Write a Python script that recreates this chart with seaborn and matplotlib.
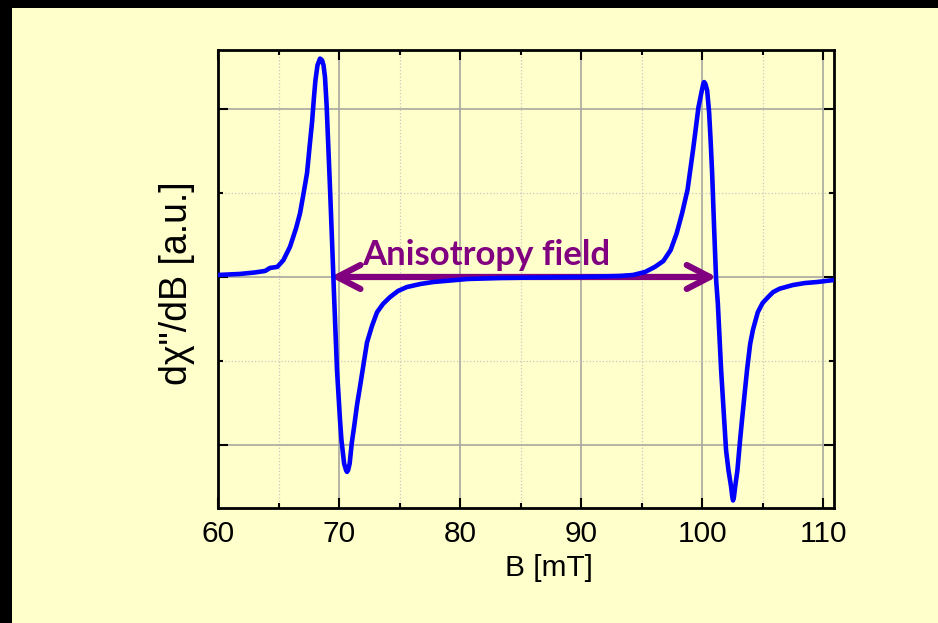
import numpy as np
import pandas as pd
import matplotlib
matplotlib.use("Agg")
import matplotlib.pyplot as plt
from matplotlib.patches import Rectangle
from matplotlib.ticker import MultipleLocator
import seaborn as sns

# field sweep [mT] and derivative signal [a.u.]
B_mT = [60.0, 61.8, 63.06, 63.9, 64.3, 64.9, 65.4, 65.95, 66.45, 66.78,
        67.1, 67.36, 67.56, 67.77, 67.93, 68.05, 68.22, 68.43, 68.6, 68.72,
        68.84, 68.97, 69.09, 69.26, 69.42, 69.59, 69.83, 70.08, 70.2, 70.42,
        70.58, 70.66, 70.75, 70.88, 71.05, 71.25, 71.49, 71.74, 72.31, 72.73,
        73.14, 73.64, 74.21, 74.88, 75.6, 76.7, 77.77, 79.2, 80.6, 83.3,
        86.6, 89.9, 91.6, 93.2, 94.3, 95.3, 96.1, 96.8, 97.4, 97.9,
        98.35, 98.8, 99.26, 99.7, 99.98, 100.1, 100.17, 100.27, 100.42, 100.58,
        100.7, 100.83, 101.0, 101.16, 101.3, 101.57, 101.74, 101.98, 102.18, 102.4,
        102.5, 102.56, 102.63, 102.73, 102.92, 103.14, 103.3, 103.55, 103.72, 103.97,
        104.2, 104.6, 105.0, 105.45, 105.87, 106.4, 107.5, 108.5, 109.5, 110.9]
signal = [0.012, 0.018, 0.027, 0.036, 0.054, 0.060, 0.10, 0.18, 0.29, 0.38,
          0.51, 0.62, 0.77, 0.92, 1.07, 1.17, 1.26, 1.30, 1.29, 1.26,
          1.19, 1.03, 0.82, 0.52, 0.22, -0.11, -0.55, -0.85, -0.97, -1.11,
          -1.15, -1.16, -1.15, -1.11, -0.99, -0.89, -0.76, -0.65, -0.39, -0.29,
          -0.21, -0.16, -0.12, -0.083, -0.06, -0.042, -0.030, -0.021, -0.012, -0.006,
          -0.003, 0.0, 0.003, 0.006, 0.012, 0.03, 0.06, 0.095, 0.16, 0.26,
          0.38, 0.52, 0.76, 1.01, 1.11, 1.15, 1.16, 1.15, 1.11, 0.98,
          0.82, 0.62, 0.28, -0.018, -0.155, -0.55, -0.75, -1.03, -1.15, -1.25,
          -1.31, -1.33, -1.31, -1.25, -1.15, -0.97, -0.85, -0.67, -0.55, -0.40,
          -0.315, -0.21, -0.155, -0.12, -0.09, -0.07, -0.048, -0.036, -0.030, -0.018]

# resonance crossings that bound the anisotropy field arrow
field_low = 69.3
field_high = 101.2
arrow_label = "Anisotropy field"

df = pd.DataFrame({"B": B_mT, "signal": signal})

sns.set_theme(style="ticks")
plt.rcParams["font.family"] = ["Liberation Sans", "DejaVu Sans"]

yellow = "#FFFFCC"
purple = "#800080"

fig = plt.figure(figsize=(9.38, 6.23), dpi=100, facecolor="black")
fig.add_artist(Rectangle((12 / 938, 0), 1, 1 - 8 / 623, transform=fig.transFigure,
                         facecolor=yellow, edgecolor="none", zorder=0))

ax = fig.add_axes([218 / 938, 115 / 623, 616 / 938, 458 / 623])
ax.set_facecolor(yellow)

ax.annotate("", xy=(field_low, 0), xytext=(field_high, 0),
            arrowprops=dict(arrowstyle="<->,head_length=0.83,head_width=0.43",
                            mutation_scale=20, lw=4.5, color=purple,
                            shrinkA=0, shrinkB=0), zorder=3)
sns.lineplot(data=df, x="B", y="signal", ax=ax, color="#0000FF", lw=3.3,
             sort=False, zorder=4)
ax.text((field_low + field_high) / 2 - 3.05, 0.071, arrow_label, ha="center",
        va="baseline", fontsize=25, fontweight="bold", color=purple,
        family=["Lato", "DejaVu Sans"], zorder=5)

ax.set_xlim(60, 110.9)
ax.set_ylim(-1.375, 1.351)
ax.xaxis.set_major_locator(MultipleLocator(10))
ax.xaxis.set_minor_locator(MultipleLocator(5))
ax.yaxis.set_major_locator(MultipleLocator(1))
ax.yaxis.set_minor_locator(MultipleLocator(0.5))
ax.set_yticklabels([])

ax.grid(which="major", color="#a8a8a0", lw=1.2, ls="-")
ax.grid(which="minor", color="#c8c8c0", lw=0.9, ls=":")
ax.set_axisbelow(True)

ax.tick_params(which="both", direction="in", top=True, right=True, colors="black")
ax.tick_params(which="major", length=7, width=1.5, labelsize=21.5, pad=9)
ax.tick_params(which="minor", length=3.5, width=1.5)
for s in ax.spines.values():
    s.set_linewidth(2)
    s.set_color("black")

ax.set_xlabel("B [mT]", fontsize=21.5, color="black")
ax.set_ylabel('dχ"/dB [a.u.]', fontsize=27, color="black")
ax.xaxis.set_label_coords((549 - 218) / 616, -0.10)
ax.yaxis.set_label_coords(-0.038, 0.49)

fig.savefig("out.png", dpi=100, facecolor=fig.get_facecolor())
